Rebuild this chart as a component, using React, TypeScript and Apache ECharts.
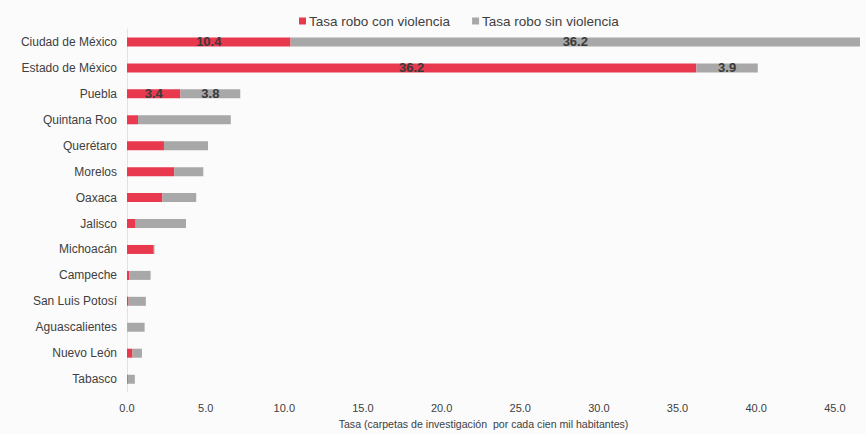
import React, { useEffect, useRef } from "react";
import * as echarts from "echarts";

const categories = [
  "Ciudad de México",
  "Estado de México",
  "Puebla",
  "Quintana Roo",
  "Querétaro",
  "Morelos",
  "Oaxaca",
  "Jalisco",
  "Michoacán",
  "Campeche",
  "San Luis Potosí",
  "Aguascalientes",
  "Nuevo León",
  "Tabasco",
];
const conViolencia = [10.4, 36.2, 3.4, 0.7, 2.35, 3.0, 2.25, 0.55, 1.7, 0.15, 0.1, 0.02, 0.35, 0.05];
const sinViolencia = [36.2, 3.9, 3.8, 5.9, 2.8, 1.85, 2.15, 3.2, 0.05, 1.35, 1.1, 1.1, 0.6, 0.45];
const labeledCount = 3;
const xTicks = { min: 0, max: 46.6, interval: 5 };
const seriesNames = ["Tasa robo con violencia", "Tasa robo sin violencia"];
const axisName = "Tasa (carpetas de investigación  por cada cien mil habitantes)";

const FONT = "'Liberation Sans', Arial, sans-serif";

function toData(values: number[]) {
  return values.map((v, i) => ({
    value: v,
    label: { show: i < labeledCount },
  }));
}

export default function App() {
  const ref = useRef<HTMLDivElement>(null);
  useEffect(() => {
    if (!ref.current) return;
    const chart = echarts.init(ref.current, undefined, { renderer: "svg" });
    const labelStyle = {
      position: "inside" as const,
      color: "#3a3a3a",
      fontFamily: FONT,
      fontWeight: "bold" as const,
      fontSize: 13,
      formatter: (p: any) => Number(p.value).toFixed(1),
    };
    chart.setOption({
      animation: false,
      backgroundColor: "#fbfbfb",
      textStyle: { fontFamily: FONT },
      legend: {
        top: 9,
        left: 294,
        itemWidth: 7,
        itemHeight: 7,
        itemGap: 22,
        icon: "rect",
        textStyle: { fontFamily: FONT, fontSize: 13.5, color: "#404040", padding: [0, 0, 0, -2] },
        data: seriesNames,
      },
      grid: { left: 127, right: 6, top: 29, bottom: 39, containLabel: false },
      xAxis: {
        type: "value",
        min: xTicks.min,
        max: xTicks.max,
        interval: xTicks.interval,
        name: axisName,
        nameLocation: "middle",
        nameGap: 21,
        nameTextStyle: { fontFamily: FONT, fontSize: 10.6, color: "#404040", padding: [0, 20, 0, 0] },
        axisLine: { show: false },
        axisTick: { show: false },
        splitLine: { show: false },
        axisLabel: {
          showMaxLabel: false,
          margin: 10,
          fontFamily: FONT,
          fontSize: 11,
          color: "#404040",
          formatter: (v: number) => v.toFixed(1),
        },
      },
      yAxis: {
        type: "category",
        inverse: true,
        data: categories,
        axisLine: { show: true, lineStyle: { color: "#eadede", width: 1 } },
        axisTick: { show: false },
        axisLabel: { fontFamily: FONT, fontSize: 12, color: "#404040", margin: 10 },
      },
      series: [
        {
          name: seriesNames[0],
          type: "bar",
          stack: "total",
          barWidth: 9,
          itemStyle: { color: "#e8394f" },
          label: labelStyle,
          data: toData(conViolencia),
        },
        {
          name: seriesNames[1],
          type: "bar",
          stack: "total",
          barWidth: 9,
          itemStyle: { color: "#a8a8a8" },
          label: labelStyle,
          data: toData(sinViolencia),
        },
      ],
    });
    return () => chart.dispose();
  }, []);
  return (
    <div
      ref={ref}
      style={{ position: "fixed", left: 0, top: 0, width: 866, height: 434 }}
    />
  );
}
